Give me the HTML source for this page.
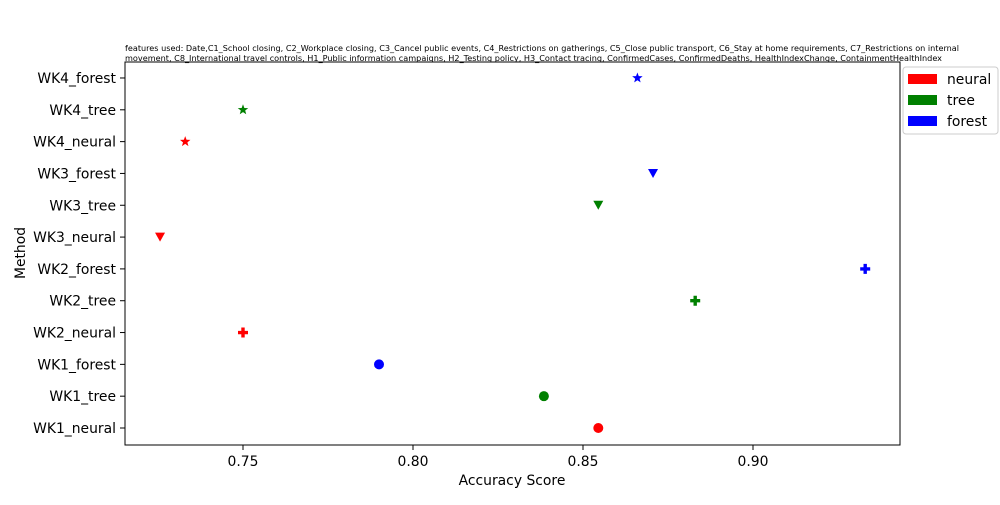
<!DOCTYPE html>
<html><head><meta charset="utf-8"><style>
body{margin:0;background:#fff}
svg text{font-family:"DejaVu Sans","Liberation Sans",sans-serif}
</style></head><body>
<svg width="1000" height="500" xmlns="http://www.w3.org/2000/svg">
<text x="125" y="51" font-size="8" textLength="834" lengthAdjust="spacingAndGlyphs">features used: Date,C1_School closing, C2_Workplace closing, C3_Cancel public events, C4_Restrictions on gatherings, C5_Close public transport, C6_Stay at home requirements, C7_Restrictions on internal</text>
<text x="125" y="61" font-size="8" textLength="817" lengthAdjust="spacingAndGlyphs">movement, C8_International travel controls, H1_Public information campaigns, H2_Testing policy, H3_Contact tracing, ConfirmedCases, ConfirmedDeaths, HealthIndexChange, ContainmentHealthIndex</text>
<g id="plot"></g>
<rect x="125" y="62" width="775" height="383" fill="none" stroke="#000" stroke-width="1"/>
<text x="512" y="485" font-size="13.9" text-anchor="middle">Accuracy Score</text>
<text transform="translate(25,253) rotate(-90)" font-size="13.9" text-anchor="middle">Method</text>
<g>
<rect x="903" y="67" width="95" height="67" rx="3" fill="#fff" stroke="#ccc"/>
<rect x="908" y="74" width="29" height="10" fill="red"/>
<text x="947" y="84" font-size="13.9">neural</text>
<rect x="908" y="95" width="29" height="10" fill="green"/>
<text x="947" y="105" font-size="13.9">tree</text>
<rect x="908" y="116" width="29" height="10" fill="blue"/>
<text x="947" y="126" font-size="13.9">forest</text>
</g>
</svg>
<script>
const categories=["WK1_neural","WK1_tree","WK1_forest","WK2_neural","WK2_tree","WK2_forest","WK3_neural","WK3_tree","WK3_forest","WK4_neural","WK4_tree","WK4_forest"];
const scores=[0.8545,0.8385,0.790,0.750,0.883,0.933,0.7256,0.8545,0.8706,0.733,0.750,0.866];
const colors=["red","green","blue","red","green","blue","red","green","blue","red","green","blue"];
const markers=["circle","circle","circle","plus","plus","plus","tri","tri","tri","star","star","star"];
const xTicks=[0.75,0.80,0.85,0.90];
const xTickLabels=["0.75","0.80","0.85","0.90"];
const NS="http://www.w3.org/2000/svg";
const g=document.getElementById('plot');
function xs(v){return 243+(v-0.75)*3400;}
function ys(i){return 428-i*31.82;}
function mk(t,a){const e=document.createElementNS(NS,t);for(const k in a)e.setAttribute(k,a[k]);g.appendChild(e);return e;}
xTicks.forEach((v,i)=>{
 const t=mk('line',{x1:xs(v),x2:xs(v),y1:445,y2:450,stroke:'#000'});
 
 
 const l=mk('text',{x:xs(v),y:466,'font-size':13.9,'text-anchor':'middle'});l.textContent=xTickLabels[i];
 
 
});
categories.forEach((c,i)=>{
 const y=ys(i);
 const t=mk('line',{x1:120,x2:125,y1:y,y2:y,stroke:'#000'});
 
 
 const l=mk('text',{x:116,y:y+5,'font-size':13.9,'text-anchor':'end'});l.textContent=c;
 
 
 const x=xs(scores[i]);let m;
 if(markers[i]=='circle')m=mk('circle',{cx:x,cy:y,r:5,fill:colors[i]});
 else if(markers[i]=='plus')m=mk('path',{d:`M${x-5} ${y-1.7}h3.3v-3.3h3.4v3.3h3.3v3.4h-3.3v3.3h-3.4v-3.3h-3.3z`,fill:colors[i]});
 else if(markers[i]=='tri')m=mk('path',{d:`M${x-5} ${y-4.5}L${x+5} ${y-4.5}L${x} ${y+4.5}z`,fill:colors[i]});
 else{let d='';for(let k=0;k<10;k++){const r=k%2?2.3:5.5,a=-Math.PI/2+k*Math.PI/5;d+=(k?'L':'M')+(x+r*Math.cos(a)).toFixed(2)+' '+(y+r*Math.sin(a)).toFixed(2);}m=mk('path',{d:d+'z',fill:colors[i]});}
 
 
});
</script>
</body></html>
